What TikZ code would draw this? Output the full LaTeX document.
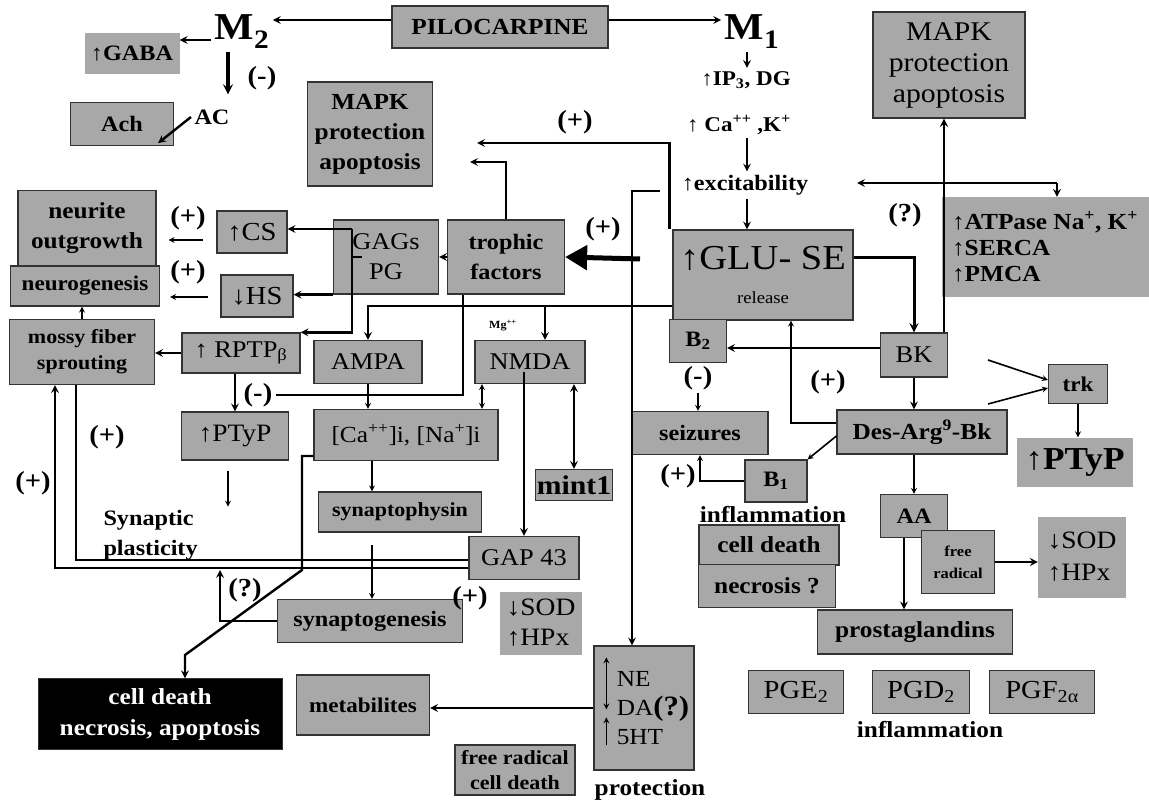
\documentclass[tikz,border=0pt]{standalone}
\usepackage{fontspec}
\setmainfont{Liberation Serif}[FakeStretch=1.1]
\usetikzlibrary{arrows,arrows.meta,calc}
\definecolor{boxgray}{RGB}{168,168,168}
\newcommand{\fsz}[2]{\fontsize{#1}{#2}\selectfont}

\begin{document}
\begin{tikzpicture}[x=1pt,y=-1pt,>=stealth,
  box/.style={draw=black!80,fill=boxgray,line width=1.2pt,inner sep=0pt,align=center},
  flat/.style={fill=boxgray,inner sep=0pt,align=center},
  link/.style={line width=2.4pt},
  thin link/.style={line width=1.6pt},
  sign/.style={font=\bfseries\fsz{26}{26}},
  label/.style={font=\bfseries\fsz{22}{24}}]
\useasboundingbox (0,0) rectangle (1149,802);

% receptors
\node[box,minimum width=216,minimum height=42,font=\bfseries\fsz{23}{24}] (pilo) at (500,27) {PILOCARPINE};
\node[font=\bfseries\fsz{38}{40}] (m2) at (242,32) {M\textsubscript{2}};
\node[font=\bfseries\fsz{38}{40}] (m1) at (752,32) {M\textsubscript{1}};
\node[flat,minimum width=95,minimum height=41,font=\bfseries\fsz{22}{24}] (gaba) at (132,54) {↑GABA};
\node[sign] (m2neg) at (262,78) {(-)};
\node[box,minimum width=103,minimum height=43,font=\bfseries\fsz{22}{24}] (ach) at (122,124) {Ach};
\node[label] (ac) at (212,117) {AC};
\node[box,minimum width=125,minimum height=104,font=\bfseries\fsz{23}{30}] (mapkL) at (370,134) {MAPK\\protection\\apoptosis};
\node[font=\bfseries\fsz{21}{22}] (ip3) at (746,80) {↑IP\textsubscript{3}, DG};
\node[font=\bfseries\fsz{21}{22}] (cak) at (739,125) {↑ Ca\textsuperscript{++} ,K\textsuperscript{+}};
\node[label] (excit) at (745,185) {↑excitability};
\node[box,minimum width=152,minimum height=106,font=\fsz{27}{31}] (mapkR) at (949,65) {MAPK\\protection\\apoptosis};
\node[flat,minimum width=207,minimum height=100,align=left,font=\bfseries\fsz{23}{26}] (atp) at (1045,247) {↑ATPase Na\textsuperscript{+}, K\textsuperscript{+}\\↑SERCA\\↑PMCA};
\node[box,minimum width=180,minimum height=90,font=\fsz{35}{38}] (glu) at (763,275) {↑GLU- SE\\[-4pt]{\fsz{17}{18}release}};

% left side
\node[box,minimum width=138,minimum height=75,font=\bfseries\fsz{23}{30}] (neur) at (87,228) {neurite\\outgrowth};
\node[box,minimum width=149,minimum height=40,font=\bfseries\fsz{21}{22}] (neurog) at (85,286) {neurogenesis};
\node[box,minimum width=70,minimum height=42,font=\fsz{26}{26}] (cs) at (252,232) {↑CS};
\node[box,minimum width=72,minimum height=42,font=\fsz{26}{26}] (hs) at (257,296) {↓HS};
\node[box,minimum width=105,minimum height=74,font=\fsz{24}{30}] (gags) at (386,257) {GAGs\\PG};
\node[box,minimum width=117,minimum height=74,font=\bfseries\fsz{22}{30}] (troph) at (506,257) {trophic\\factors};
\node[box,minimum width=145,minimum height=65,font=\bfseries\fsz{20}{26}] (mossy) at (82,352) {mossy fiber\\sprouting};
\node[box,minimum width=118,minimum height=40,font=\fsz{24}{26}] (rptp) at (241,353) {↑ RPTP\textsubscript{β}};
\node[box,minimum width=107,minimum height=48,font=\fsz{25}{28}] (ptypL) at (235,436) {↑PTyP};
\node[box,minimum width=108,minimum height=43,font=\fsz{24}{26}] (ampa) at (368,362) {AMPA};
\node[box,minimum width=110,minimum height=43,font=\fsz{24}{26}] (nmda) at (530,362) {NMDA};
\node[font=\bfseries\fsz{11}{12}] (mg) at (503,326) {Mg\textsuperscript{++}};
\node[box,minimum width=184,minimum height=51,font=\fsz{23}{26}] (caNa) at (406,435) {[Ca\textsuperscript{++}]i, [Na\textsuperscript{+}]i};
\node[box,minimum width=77,minimum height=31,font=\bfseries\fsz{27}{28}] (mint) at (574,485) {mint1};
\node[box,minimum width=163,minimum height=40,font=\bfseries\fsz{20}{20}] (synphys) at (400,512) {synaptophysin};
\node[box,minimum width=110,minimum height=43,font=\fsz{24}{26}] (gap) at (524,558) {GAP 43};
\node[box,minimum width=185,minimum height=43,font=\bfseries\fsz{22}{22}] (syngen) at (370,621) {synaptogenesis};
\node[flat,minimum width=82,minimum height=63,align=left,font=\fsz{25}{30}] (sodM) at (541,623) {↓SOD\\↑HPx};
\node[box,minimum width=100,minimum height=124,align=left,font=\fsz{23}{29}] (neda) at (644,708) {\hspace*{18pt}NE\\\hspace*{18pt}DA{\bfseries\fsz{28}{28}(?)}\\\hspace*{18pt}5HT};
\node[box,minimum width=133,minimum height=60,font=\bfseries\fsz{21}{20}] (metab) at (363,705) {metabilites};
\node[box,minimum width=120,minimum height=50,font=\bfseries\fsz{20}{25}] (frcd) at (515,770) {free radical\\cell death};
\node[draw=black!80,fill=black,text=white,inner sep=0pt,align=center,minimum width=244,minimum height=71,font=\bfseries\fsz{23}{31}] (cdblack) at (160,714) {cell death\\necrosis, apoptosis};
\node[font=\bfseries\fsz{22}{30},align=left,anchor=west] (plast) at (100,535) {Synaptic\\plasticity};
\node[label,font=\bfseries\fsz{23}{24}] (protect) at (650,790) {protection};

% kinin side
\node[box,minimum width=57,minimum height=43,font=\bfseries\fsz{22}{24}] (b2) at (698,341) {B\textsubscript{2}};
\node[box,minimum width=67,minimum height=44,font=\fsz{24}{26}] (bk) at (914,355) {BK};
\node[box,minimum width=136,minimum height=43,font=\bfseries\fsz{22}{24}] (seiz) at (700,433) {seizures};
\node[box,minimum width=170,minimum height=44,font=\bfseries\fsz{23}{24}] (desarg) at (922,432) {Des-Arg\textsuperscript{9}-Bk};
\node[box,minimum width=62,minimum height=42,font=\bfseries\fsz{22}{24}] (b1) at (776,481) {B\textsubscript{1}};
\node[label,font=\bfseries\fsz{23}{24}] (infl1) at (773,515) {inflammation};
\node[box,minimum width=140,minimum height=40,font=\bfseries\fsz{23}{24}] (celld) at (769,545) {cell death};
\node[box,minimum width=137,minimum height=43,font=\bfseries\fsz{23}{24}] (necr) at (767,586) {necrosis ?};
\node[box,minimum width=59,minimum height=39,font=\bfseries\fsz{21}{24}] (trk) at (1078,384) {trk};
\node[flat,minimum width=116,minimum height=49,font=\bfseries\fsz{32}{32}] (ptypR) at (1075,462) {↑PTyP};
\node[box,minimum width=67,minimum height=43,font=\bfseries\fsz{22}{24}] (aa) at (914,516) {AA};
\node[box,minimum width=73,minimum height=63,font=\bfseries\fsz{15}{22}] (frad) at (958,562) {free\\radical};
\node[flat,minimum width=88,minimum height=81,align=left,font=\fsz{25}{32}] (sodR) at (1082,557) {↓SOD\\↑HPx};
\node[box,minimum width=195,minimum height=44,font=\bfseries\fsz{23}{24}] (prost) at (915,632) {prostaglandins};
\node[box,minimum width=95,minimum height=43,font=\fsz{26}{26}] (pge) at (796,692) {PGE\textsubscript{2}};
\node[box,minimum width=97,minimum height=43,font=\fsz{26}{26}] (pgd) at (921,692) {PGD\textsubscript{2}};
\node[box,minimum width=105,minimum height=43,font=\fsz{26}{26}] (pgf) at (1042,692) {PGF\textsubscript{2α}};
\node[label,font=\bfseries\fsz{23}{24}] (infl2) at (930,730) {inflammation};

% signs
\node[sign] at (188,218) {(+)};
\node[sign] at (188,272) {(+)};
\node[sign] at (575,122) {(+)};
\node[sign] at (603,229) {(+)};
\node[sign] at (107,437) {(+)};
\node[sign] at (33,483) {(+)};
\node[sign] at (470,598) {(+)};
\node[sign] at (828,382) {(+)};
\node[sign] at (678,476) {(+)};
\node[sign] (b2neg) at (698,378) {(-)};
\node[sign] (rneg) at (258,395) {(-)};
\node[sign] at (905,215) {(?)};
\node[sign] at (245,590) {(?)};

% free ends and bends
\coordinate (pl) at ([yshift=7pt]pilo.west);
\coordinate (pr) at ([yshift=7pt]pilo.east);
\coordinate (m2w) at ([yshift=-8pt]m2.west);
\coordinate (mk1) at (477,143);
\coordinate (mk2) at (470,162);
\coordinate (ne0) at (660,191);
\coordinate (th0) at (640,259);
\coordinate (ge) at ([yshift=17pt]glu.east);
\coordinate (ex1) at (1057,183);
\coordinate (ex2) at (857,183);
\coordinate (tk1) at (988,360);
\coordinate (tk2) at (988,404);
\coordinate (g1) at (352,229);
\coordinate (gl1) at (glu.west |- 0,306);
\coordinate (nm1) at ([xshift=15pt]nmda.north);
\coordinate (tr1) at ([xshift=-43pt]troph.south);
\coordinate (sy1) at (372,545);
\coordinate (pt1) at ([shift={(-7,10)}]ptypL.south);
\coordinate (cd1) at (302,570);
\coordinate (cd2) at (185,655);
\coordinate (sg1) at (220,570);
\coordinate (aa1) at ([xshift=-10pt]aa.south);

% pilocarpine
\draw[link,->] (pl) -- (pl -| m2.east);
\draw[link,->] (pr) -- (pr -| m1.west);
\draw[link,->] (m2w) -- (m2w -| gaba.east);
\draw[line width=3.4pt,->] ([xshift=-14pt]m2.south) -- ++(0,42);
\draw[link,->] (ac.west) -- ([shift={(-16,-3)}]ach.south east);
\draw[link,->] (m1.south -| 747,0) -- (ip3.north -| 747,0);
\draw[link,->] (cak.south -| 747,0) -- (excit.north -| 747,0);
\draw[link,->] (excit.south -| 747,0) -- (glu.north -| 747,0);
\draw[link,->] ([xshift=-3pt]glu.north west) |- (mk1);
\draw[link,->] (troph.north) |- (mk2);
\draw[link,->] (ne0) -| ([xshift=-12pt]neda.north);
\draw[line width=5pt,-{Triangle[length=22pt,width=24pt]}] (th0) -- (troph.east);
\draw[line width=3pt,->] (ge) -| (bk.north);
\draw[line width=2.6pt,->] ([xshift=30pt]bk.north) -- ([xshift=30pt]bk.north |- mapkR.south);
\draw[link,->] (ex1) -- (ex2);
\draw[link,->] (ex1) -- (ex1 |- atp.north);

% kinins
\draw[link,->] (bk.west |- 0,348) -- (b2.east |- 0,348);
\draw[thin link,->] (b2neg.south) -- (b2neg.south |- seiz.north);
\draw[link,->] (bk.south) -- (bk.south |- desarg.north);
\draw[thin link,->] (desarg.west |- 0,423) -| (glu.south -| 791,0);
\draw[thin link,->] ([yshift=-4pt]desarg.west) -- (b1.north east);
\draw[thin link,->] (b1.west) -| (seiz.south);
\draw[thin link,->] (tk1) -- ([yshift=4pt]trk.west);
\draw[thin link,->] (tk2) -- ([yshift=-4pt]trk.west);
\draw[thin link,->] (trk.south) -- (trk.south |- ptypR.north);
\draw[thin link,->] (desarg.south -| aa.north) -- (aa.north);
\draw[link,->] (aa1) -- (aa1 |- prost.north);
\draw[link,->] (frad.east) -- (sodR.west |- frad.east);

% glycans and trophic factors
\draw[thin link,->,shorten >=12pt] (203,240) -- (neur.east |- 0,240);
\draw[thin link,->,shorten >=10pt] (208,297) -- (neurog.east |- 0,297);
\draw[link,->] (g1) -- (cs.east |- g1);
\draw[link,->] (g1) |- (rptp.north east);
\draw[link] (g1 |- gags.west) -- ++(10,0);
\draw[link,->] (gags.south west) -- (hs.east |- gags.south west);
\draw[link,->] (troph.west) -- (gags.east);
\draw[link,->] (rptp.west) -- (mossy.east |- rptp.west);
\draw[thin link,->] (mossy.north) -- (mossy.north |- neurog.south);
\draw[link,->] (rptp.south -| ptypL.north) -- (ptypL.north);
\draw[link] (tr1) |- (rneg.east);

% glutamate receptors
\draw[link,->] (gl1) -| (ampa.north);
\draw[link,->] (nm1 |- gl1) -- (nm1);
\draw[thin link,->] (ampa.south) -- (ampa.south |- caNa.north);
\draw[thin link,<->] (nmda.south -| 482,0) -- (caNa.north -| 482,0);
\draw[link,->] (gap.north |- 0,372) -- (gap.north);
\draw[link,<->] (nmda.south -| mint.north) -- (mint.north);
\draw[thin link,->] (caNa.south -| 372,0) -- (synphys.north -| 372,0);
\draw[thin link,->] (sy1) -- (sy1 |- syngen.north);
\draw[link,->] (gap.west |- 0,568) -| (mossy.south -| 55,0);
\draw[link] (gap.west |- 0,560) -| (mossy.south -| 76,0);
\draw[thin link,->] (pt1) -- ++(0,36);
\draw[link,->] (caNa.west |- 0,456) -| (cd1) -- (cd2) -- (cd2 |- cdblack.north);
\draw[link,->] (syngen.west) -| (sg1);
\draw[link,->] (neda.west) -- (metab.east |- neda.west);
\draw[thin link,<->] ($(neda.north west)+(13,12)$) -- ++(0,52);
\draw[thin link,->] ($(neda.north west)+(13,100)$) -- ++(0,-28);
\end{tikzpicture}
\end{document}
